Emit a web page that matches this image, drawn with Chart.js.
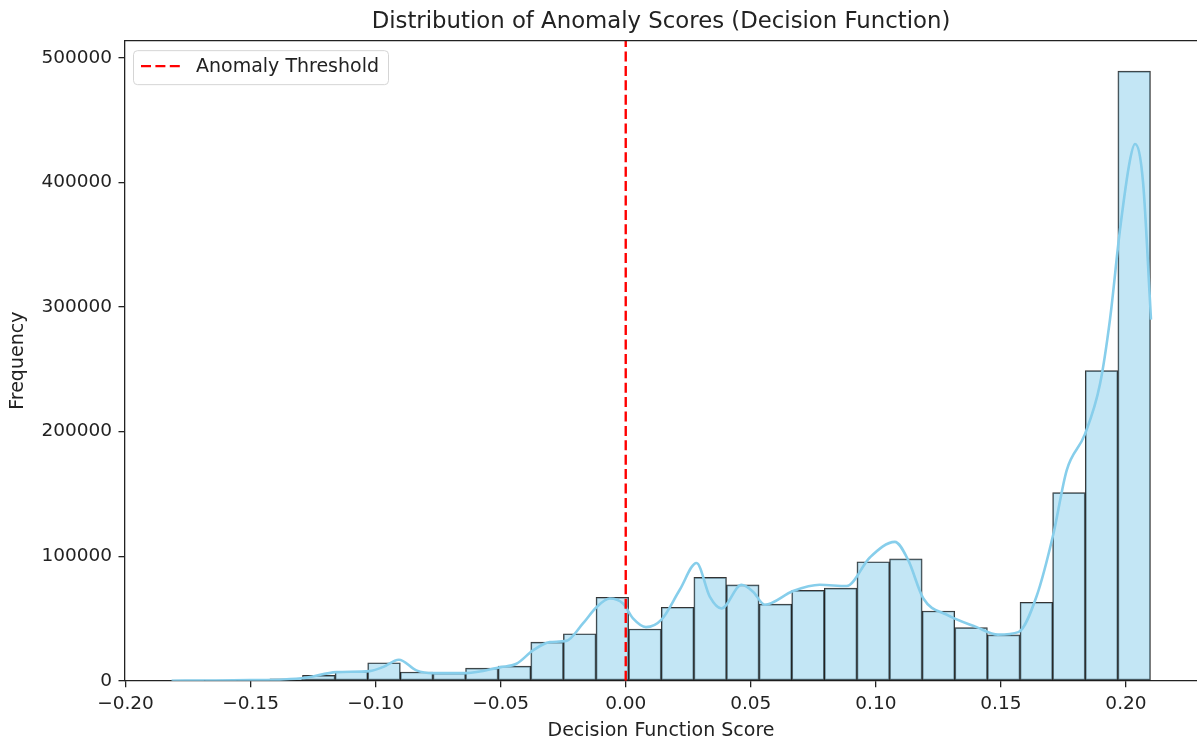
<!DOCTYPE html>
<html lang="en">
<head>
  <meta charset="UTF-8">
  <title>Distribution of Anomaly Scores</title>
  <script src="https://cdn.jsdelivr.net/npm/chart.js"></script>
  <style>
    * { margin: 0; padding: 0; box-sizing: border-box; }
    body { background: #fff; }
    #wrap { width: 1197px; height: 742px; }
  </style>
</head>
<body>
  <div id="wrap"><canvas id="hist" width="1197" height="742"></canvas></div>

  <script>
    // histogram bins (30 equal bins)
    const binFirstEdge = -0.1814;
    const binWidth = 0.01304;
    const binCounts = [100, 200, 600, 1600, 4300, 7500, 14400, 7000, 6100, 10100,
                       11700, 31000, 37700, 67000, 41500, 59000, 83000, 77000, 61500, 72500,
                       74300, 95500, 97800, 56000, 42600, 36800, 63000, 151000, 249000, 489500];

    // KDE curve
    const kdeScores = [-0.1816, -0.165, -0.15, -0.137, -0.1278, -0.1157, -0.1024, -0.0971, -0.0907, -0.0837,
                       -0.0771, -0.0637, -0.05, -0.0437, -0.0371, -0.0304, -0.0237, -0.0171, -0.0117, -0.0064,
                       -0.0011, 0.0029, 0.0081, 0.0143, 0.0216, 0.0283, 0.0336, 0.0383, 0.0463, 0.0509,
                       0.0556, 0.0669, 0.0776, 0.0883, 0.0976, 0.1076, 0.1129, 0.119, 0.1283, 0.1403,
                       0.1488, 0.157, 0.1643, 0.171, 0.1763, 0.1836, 0.1896, 0.1936, 0.1976, 0.2016,
                       0.2036, 0.2068, 0.2096, 0.2100];
    const kdeFreq = [0, 200, 500, 1000, 2400, 6900, 7700, 10900, 16800, 8300,
                     6100, 6100, 10900, 13600, 24300, 31000, 32000, 46000, 59000, 66000,
                     62000, 50000, 43000, 49000, 73000, 94500, 67500, 58000, 77000, 71500,
                     61000, 72000, 77000, 76000, 99000, 111500, 97000, 66000, 53000, 43000,
                     37000, 39000, 68000, 118000, 169000, 198000, 238000, 290000, 362000, 418000,
                     431000, 401000, 305000, 290000];

    const thresholdScore = 0;
    const xRange = [-0.2002, 0.2284];
    const yMax = 514000;
    const xTicks = [-0.20, -0.15, -0.10, -0.05, 0.00, 0.05, 0.10, 0.15, 0.20];
    const yTicks = [0, 100000, 200000, 300000, 400000, 500000];

    const histData = binCounts.map((c, i) => ({ x: binFirstEdge + (i + 0.5) * binWidth, y: c }));
    const kdeData = kdeScores.map((s, i) => ({ x: s, y: kdeFreq[i] }));
    const thresholdData = [{ x: thresholdScore, y: 0 }, { x: thresholdScore, y: yMax }];

    const FONT = "'DejaVu Sans', sans-serif";
    Chart.defaults.font.family = FONT;
    Chart.defaults.font.size = 18.5;
    Chart.defaults.color = '#222';

    // top spine (the right one falls outside the picture)
    const topSpine = {
      id: 'topSpine',
      afterDatasetsDraw(chart) {
        const { ctx, chartArea: a } = chart;
        ctx.save();
        ctx.strokeStyle = '#222';
        ctx.lineWidth = 1.3;
        ctx.beginPath();
        ctx.moveTo(a.left, a.top);
        ctx.lineTo(a.right, a.top);
        ctx.stroke();
        ctx.restore();
      }
    };

    // matplotlib-like legend box in the upper left corner
    const legendBox = {
      id: 'legendBox',
      afterDraw(chart) {
        const { ctx, chartArea: a } = chart;
        const ds = chart.data.datasets[2];
        const x = a.left + 8, y = a.top + 9.5, w = 255, h = 34;
        ctx.save();
        ctx.beginPath();
        ctx.roundRect(x + 0.5, y + 0.5, w, h, 4);
        ctx.fillStyle = 'rgba(255,255,255,0.8)';
        ctx.fill();
        ctx.strokeStyle = '#d5d5d5';
        ctx.lineWidth = 1;
        ctx.stroke();
        ctx.beginPath();
        ctx.setLineDash(ds.borderDash);
        ctx.strokeStyle = ds.borderColor;
        ctx.lineWidth = ds.borderWidth;
        ctx.moveTo(x + 8, y + 16);
        ctx.lineTo(x + 47, y + 16);
        ctx.stroke();
        ctx.setLineDash([]);
        ctx.fillStyle = '#222';
        ctx.font = "19px " + FONT;
        ctx.textBaseline = 'middle';
        ctx.fillText(ds.label, x + 63, y + 17);
        ctx.restore();
      }
    };

    new Chart(document.getElementById('hist'), {
      type: 'bar',
      data: {
        datasets: [
          {
            type: 'bar',
            label: 'Count',
            data: histData,
            backgroundColor: 'rgba(135,206,235,0.5)',
            borderColor: 'rgba(0,0,0,0.8)',
            borderWidth: 1,
            borderSkipped: false,
            barPercentage: 1,
            categoryPercentage: 1,
            order: 3
          },
          {
            type: 'line',
            label: 'KDE',
            data: kdeData,
            borderColor: '#87ceeb',
            borderWidth: 2.6,
            pointRadius: 0,
            cubicInterpolationMode: 'monotone',
            fill: false,
            order: 2
          },
          {
            type: 'line',
            label: 'Anomaly Threshold',
            data: thresholdData,
            borderColor: '#ff0000',
            borderWidth: 2.4,
            borderDash: [10, 4.4],
            pointRadius: 0,
            fill: false,
            order: 1
          }
        ]
      },
      options: {
        responsive: false,
        animation: false,
        layout: { padding: 0 },
        plugins: {
          legend: { display: false },
          tooltip: { enabled: false },
          title: {
            display: true,
            fullSize: false,
            text: 'Distribution of Anomaly Scores (Decision Function)',
            font: { size: 22.8, weight: 'normal' },
            color: '#222',
            padding: { top: 8, bottom: 5.3 }
          }
        },
        scales: {
          x: {
            type: 'linear',
            min: xRange[0],
            max: xRange[1],
            offset: false,
            grid: { display: true, offset: false, drawOnChartArea: false, drawTicks: true, tickLength: 6.5, color: '#222', lineWidth: 1.3 },
            border: { display: true, color: '#222', width: 1.3 },
            afterBuildTicks: s => { s.ticks = xTicks.map(v => ({ value: v })); },
            ticks: {
              autoSkip: false,
              maxRotation: 0,
              padding: 6,
              callback: v => (Math.abs(v) < 1e-9 ? 0 : v).toFixed(2).replace('-', '\u2212')
            },
            title: { display: true, text: 'Decision Function Score', font: { size: 19 }, padding: { top: 4, bottom: 0 } },
            afterFit: s => { s.height = 742 - 680.7; }
          },
          y: {
            min: 0,
            max: yMax,
            grid: { display: true, drawOnChartArea: false, drawTicks: true, tickLength: 6.5, color: '#222', lineWidth: 1.3 },
            border: { display: true, color: '#222', width: 1.3 },
            afterBuildTicks: s => { s.ticks = yTicks.map(v => ({ value: v })); },
            ticks: {
              padding: 6.5,
              callback: v => String(v)
            },
            title: { display: true, text: 'Frequency', font: { size: 19 }, padding: { top: 7, bottom: 0 } },
            afterFit: s => { s.width = 125; }
          }
        }
      },
      plugins: [topSpine, legendBox]
    });
  </script>
</body>
</html>
